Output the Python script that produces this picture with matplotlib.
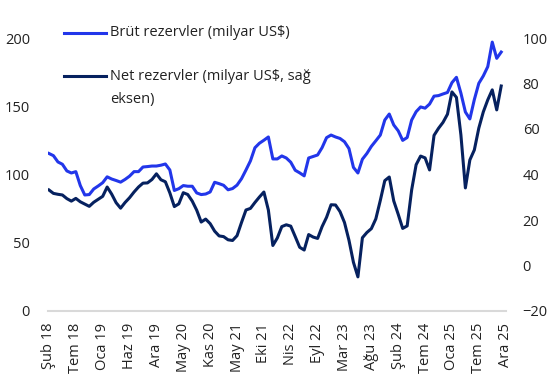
import matplotlib
matplotlib.use("Agg")
import matplotlib.pyplot as plt
from matplotlib.lines import Line2D
import pandas as pd
import numpy as np

plt.rcParams['font.family'] = ['Open Sans', 'DejaVu Sans']

# 4-weekly observations starting Feb 2018
start = '2018-02-09'
gross = [115.4, 113.8, 109.2, 107.5, 102.6, 101.1, 102.1, 91.9, 85.0, 85.3,
         89.4, 91.6, 94.0, 98.3, 96.7, 95.6, 94.4, 96.4, 98.8, 102.1,
         102.1, 105.5, 105.8, 106.2, 106.2, 106.8, 107.7, 103.3, 88.3, 89.6,
         91.9, 91.4, 91.4, 86.5, 85.3, 85.7, 87.2, 94.3, 93.3, 92.1,
         88.8, 89.7, 92.2, 96.9, 103.3, 110.0, 119.6, 122.9, 125.1, 127.5,
         111.4, 111.4, 113.6, 112.1, 109.0, 103.1, 101.2, 99.0, 112.1, 113.2,
         114.3, 119.7, 127.0, 128.9, 127.5, 126.4, 124.0, 119.0, 105.2, 101.1,
         111.2, 115.4, 120.6, 124.7, 128.9, 139.9, 144.3, 136.3, 132.0, 125.0,
         127.1, 139.9, 146.0, 149.5, 148.6, 151.6, 157.4, 157.8, 159.0, 160.1,
         167.3, 171.2, 159.6, 145.8, 140.7, 154.9, 166.8, 172.2, 179.0, 197.0,
         185.1, 189.7]
net = [33.2, 31.7, 31.3, 31.0, 29.4, 28.3, 29.5, 28.0, 27.0, 26.0,
       27.8, 29.1, 30.4, 34.5, 31.4, 27.6, 25.2, 27.7, 29.8, 32.3,
       34.5, 36.2, 36.3, 37.8, 40.3, 37.7, 36.8, 31.9, 25.9, 27.1,
       32.0, 31.2, 28.3, 24.3, 19.1, 20.4, 18.4, 15.1, 13.0, 12.7,
       11.3, 11.0, 13.1, 18.9, 24.4, 25.1, 27.7, 30.1, 32.3, 24.4,
       8.8, 12.1, 17.1, 17.9, 17.3, 12.7, 8.0, 6.8, 13.6, 12.5,
       11.9, 17.1, 21.2, 26.7, 26.6, 23.7, 18.9, 11.1, 1.4, -5.0,
       12.2, 14.5, 16.2, 20.5, 28.6, 37.3, 38.9, 28.4, 22.5, 16.3,
       17.4, 33.2, 44.3, 48.1, 47.3, 42.0, 57.2, 60.3, 62.9, 66.5,
       76.3, 73.9, 57.4, 34.1, 46.4, 50.8, 60.4, 67.5, 72.8, 77.2,
       68.4, 78.9]
tick_labels = ['Şub 18', 'Tem 18', 'Oca 19', 'Haz 19', 'Ara 19', 'May 20',
               'Kas 20', 'May 21', 'Eki 21', 'Nis 22', 'Eyl 22', 'Mar 23',
               'Ağu 23', 'Şub 24', 'Tem 24', 'Oca 25', 'Tem 25', 'Ara 25']
label_gross = 'Brüt rezervler (milyar US$)'
label_net = 'Net rezervler (milyar US$, sağ\neksen)'

dates = pd.date_range(start, periods=len(gross), freq='28D')
tick_dates = pd.date_range(start, periods=len(tick_labels), freq='168D')

BLUE = '#2236EA'
NAVY = '#06215F'
TXT = '#222222'
FS = 10.5
W, H = 553, 380
fig = plt.figure(figsize=(W / 100, H / 100), dpi=100)
ax = fig.add_axes([48 / W, 1 - 311 / H, (506 - 48) / W, (311 - 38) / H])
ax2 = ax.twinx()

ax.plot(dates, gross, color=BLUE, lw=2.2, solid_joinstyle='round')
ax2.plot(dates, net, color=NAVY, lw=2.2, solid_joinstyle='round')

ax.set_ylim(0, 200)
ax.set_yticks(np.arange(0, 201, 50))
ax2.set_ylim(-20, 100)
ax2.set_yticks(np.arange(-20, 101, 20))
ax.set_xlim(pd.Timestamp(start) - pd.Timedelta(days=6),
            tick_dates[-1] + pd.Timedelta(days=2))
ax.set_xticks(tick_dates)
ax.set_xticklabels(tick_labels, rotation=90, ha='center', va='top')

for a in (ax, ax2):
    for s in a.spines.values():
        s.set_visible(False)
    a.tick_params(length=0, labelsize=FS, colors=TXT)
ax.tick_params(axis='y', pad=13)
ax2.tick_params(axis='y', pad=12)
ax.tick_params(axis='x', pad=8.5)
ax.spines['bottom'].set_visible(True)
ax.spines['bottom'].set_color('#d9d9d9')
ax.spines['bottom'].set_linewidth(1.5)

# legend (figure pixel positions)
def fx(x):
    return x / W

def fy(y):
    return 1 - y / H

fig.add_artist(Line2D([fx(64), fx(106)], [fy(33), fy(33)], color=BLUE, lw=2.2))
fig.add_artist(Line2D([fx(64), fx(106)], [fy(76), fy(76)], color=NAVY, lw=2.2))
fig.text(fx(110), fy(33), label_gross, fontsize=FS, va='center', ha='left', color=TXT)
fig.text(fx(110), fy(76), label_net.split('\n')[0], fontsize=FS, va='center', ha='left', color=TXT)
fig.text(fx(110), fy(99), label_net.split('\n')[1], fontsize=FS, va='center', ha='left', color=TXT)

fig.savefig('out.png', dpi=100)
